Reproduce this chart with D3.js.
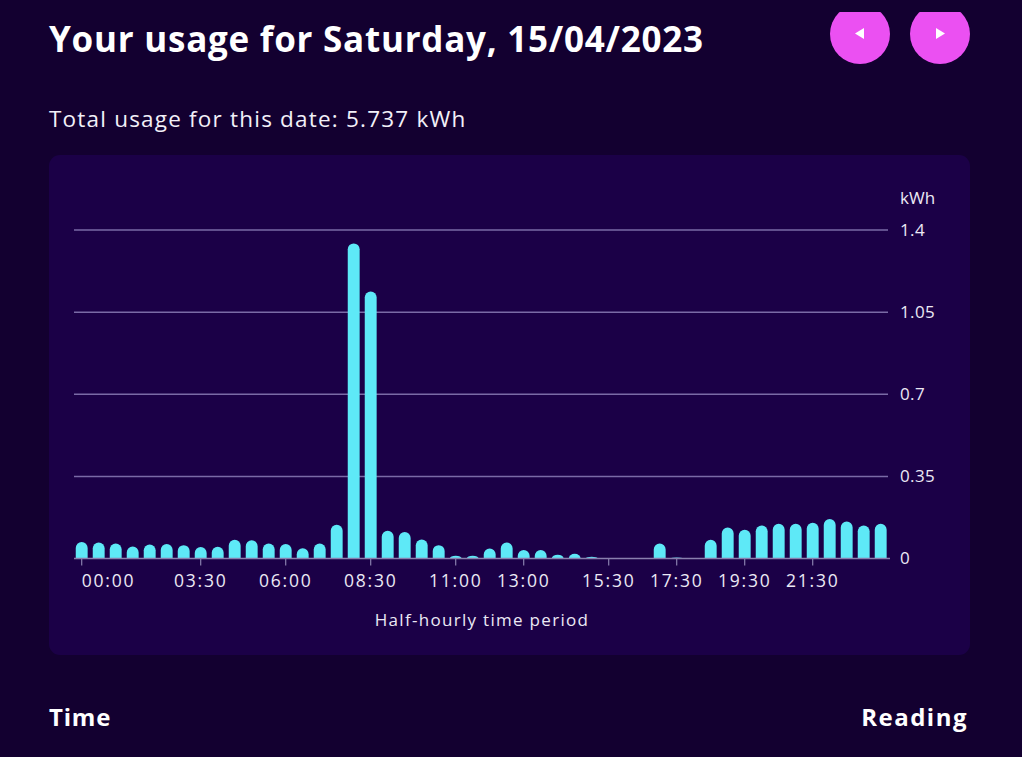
<!DOCTYPE html>
<html>
<head>
<meta charset="utf-8">
<script src="https://cdn.jsdelivr.net/npm/d3@7"></script>
<style>
  html, body { margin: 0; padding: 0; background: #130030; }
  svg { display: block; }
  text { font-family: "Open Sans", "Lato", sans-serif; }
</style>
</head>
<body>
<svg id="chart" width="1022" height="757"></svg>
<script>
const times = ["00:00","00:30","01:00","01:30","02:00","02:30","03:00","03:30",
  "04:00","04:30","05:00","05:30","06:00","06:30","07:00","07:30",
  "08:00","08:30","09:00","09:30","10:00","10:30","11:00","11:30",
  "12:00","12:30","13:00","13:30","14:00","14:30","15:00","15:30",
  "16:00","16:30","17:00","17:30","18:00","18:30","19:00","19:30",
  "20:00","20:30","21:00","21:30","22:00","22:30","23:00","23:30"];
const usage = [0.070,0.068,0.064,0.051,0.060,0.062,0.057,0.049,
  0.050,0.080,0.078,0.064,0.062,0.044,0.064,0.144,
  1.343,1.138,0.118,0.113,0.081,0.057,0.012,0.012,
  0.043,0.068,0.036,0.036,0.016,0.020,0.007,0,
  0,0,0.064,0.004,0,0.080,0.132,0.122,
  0.141,0.148,0.148,0.152,0.168,0.158,0.141,0.148];
const xTickLabels = ["00:00","03:30","06:00","08:30","11:00","13:00","15:30","17:30","19:30","21:30"];
const yTicks = [0, 0.35, 0.7, 1.05, 1.4];
const titleText = "Your usage for Saturday, 15/04/2023";
const totalText = "Total usage for this date: 5.737 kWh";

const svg = d3.select("#chart");
const bg = "#130030", card = "#1b0047", txt = "#ece9f5";

svg.append("rect").attr("width",1022).attr("height",757).attr("fill",bg);

// header
svg.append("text").attr("x",49).attr("y",52).attr("fill","#ffffff")
  .attr("font-size",35).attr("font-weight",700).attr("letter-spacing",0.75).text(titleText);
svg.append("text").attr("x",49).attr("y",127).attr("fill","#f2f0f8")
  .attr("font-size",22.5).attr("letter-spacing",1.2).text(totalText);

// nav buttons
const defs = svg.append("defs");
defs.append("clipPath").attr("id","topclip").append("rect")
  .attr("x",0).attr("y",12).attr("width",1022).attr("height",100);
const btns = [{cx:860, dir:-1},{cx:940, dir:1}];
const bg2 = svg.append("g").attr("clip-path","url(#topclip)");
bg2.selectAll("circle").data(btns).join("circle")
  .attr("cx",d=>d.cx).attr("cy",34).attr("r",30).attr("fill","#eb50f2");
svg.selectAll("path.arrow").data(btns).join("path").attr("class","arrow")
  .attr("d",d=> d.dir<0
    ? `M${d.cx+4},${28} L${d.cx-5},${33.5} L${d.cx+4},${39} Z`
    : `M${d.cx-4},${28} L${d.cx+5},${33.5} L${d.cx-4},${39} Z`)
  .attr("fill","#ffffff");

// card
svg.append("rect").attr("x",49).attr("y",155).attr("width",921).attr("height",500)
  .attr("rx",11).attr("fill",card);

// scales
const x = d3.scaleBand().domain(times).range([73.2, 889.2]).paddingInner(0.3).paddingOuter(0.15);
const y = d3.scaleLinear().domain([0, 1.4]).range([558.5, 230]);

// gridlines
svg.append("g").selectAll("line").data(yTicks.filter(d=>d>0)).join("line")
  .attr("x1",74).attr("x2",888).attr("y1",d=>y(d)).attr("y2",d=>y(d))
  .attr("stroke","#7a6aa6").attr("stroke-width",1.5);

// y labels
svg.append("g").selectAll("text").data(yTicks).join("text")
  .attr("x",900).attr("y",d=>y(d)).attr("dy","0.35em")
  .attr("fill",txt).attr("font-size",17).attr("letter-spacing",0.4).text(d=>String(d));
svg.append("text").attr("x",900).attr("y",198).attr("dy","0.35em")
  .attr("fill",txt).attr("font-size",17).text("kWh");

// bars
const bw = x.bandwidth();
svg.append("g").selectAll("path").data(usage.map((v,i)=>({t:times[i], v})).filter(d=>d.v>0))
  .join("path")
  .attr("d", d => {
    const x0 = x(d.t), y0 = y(0), top = y(d.v), h = y0 - top;
    const rx = bw/2, ry = Math.min(bw/2, h);
    return `M${x0},${y0} V${top+ry} A${rx},${ry} 0 0 1 ${x0+bw},${top+ry} V${y0} Z`;
  })
  .attr("fill","#5ee9f7");

// x axis
const xAxis = d3.axisBottom(x).tickValues(xTickLabels).tickSize(7).tickPadding(9).tickSizeOuter(0);
const gx = svg.append("g").attr("transform",`translate(0,${y(0)})`).call(xAxis);
gx.select(".domain").attr("stroke","#8a7fae").attr("stroke-width",1.5)
  .attr("d","M74,0H890");
gx.selectAll(".tick line").attr("stroke","#8a7fae").attr("stroke-width",1.2);
gx.selectAll(".tick text").attr("fill",txt).attr("font-size",17.5).attr("letter-spacing",1.8)
  .attr("font-family","'Open Sans', Lato, sans-serif");
gx.selectAll(".tick text").filter(d => d === xTickLabels[0]).attr("text-anchor","start");

svg.append("text").attr("x",482).attr("y",620).attr("dy","0.35em").attr("text-anchor","middle")
  .attr("fill",txt).attr("font-size",17).attr("letter-spacing",1.3).text("Half-hourly time period");

// table header
svg.append("text").attr("x",49).attr("y",726).attr("fill","#ffffff")
  .attr("font-size",24).attr("font-weight",700).attr("letter-spacing",0.8).text("Time");
svg.append("text").attr("x",968).attr("y",726).attr("text-anchor","end").attr("fill","#ffffff")
  .attr("font-size",24).attr("font-weight",700).attr("letter-spacing",1.5).text("Reading");
</script>
</body>
</html>
